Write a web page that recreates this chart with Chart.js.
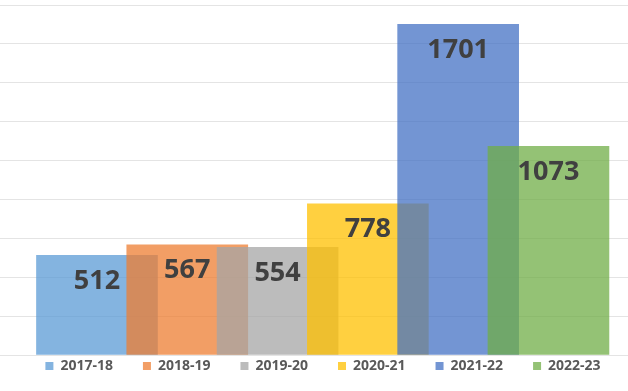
<!DOCTYPE html>
<html>
<head>
<meta charset="utf-8">
<script src="https://cdn.jsdelivr.net/npm/chart.js@4"></script>
<style>
  html, body { margin: 0; padding: 0; background: #fff; }
  #wrap { width: 628px; height: 391px; }
</style>
</head>
<body>
<div id="wrap"><canvas id="myChart"></canvas></div>
<script>
// one bar per season
const seasons = ['2017-18', '2018-19', '2019-20', '2020-21', '2021-22', '2022-23']
const counts = [512, 567, 554, 778, 1701, 1073]
const colors = [
  'rgba(91, 155, 213, 0.75)',
  'rgba(237, 125, 49, 0.75)',
  'rgba(165, 165, 165, 0.75)',
  'rgba(255, 192, 0, 0.75)',
  'rgba(68, 114, 196, 0.75)',
  'rgba(112, 173, 71, 0.75)'
]

// draws the value inside each bar, near its top
const barLabels = {
  id: 'barLabels',
  afterDatasetsDraw(chart) {
    const ctx = chart.ctx
    ctx.save()
    ctx.font = 'bold 27px "Open Sans"'
    ctx.fillStyle = '#404040'
    ctx.textAlign = 'center'
    ctx.textBaseline = 'middle'
    chart.data.datasets.forEach((ds, i) => {
      const bar = chart.getDatasetMeta(i).data[0]
      ctx.fillText(String(ds.data[0].y), bar.x, bar.y + 26)
    })
    ctx.restore()
  }
}

// legend padding is wide for the row spacing, so pull the row up under the plot
const legendNudge = {
  id: 'legendNudge',
  afterLayout(chart) {
    const lg = chart.legend
    const pad = lg.options.labels.padding
    const dy = (chart.chartArea.bottom + 11 - pad - 7) - lg.top
    lg.top += dy
    lg.bottom += dy
    lg.left += 9
    lg.right += 9
  }
}

// later seasons are drawn over the earlier ones
let datasets = seasons.map((s, i) => ({
  label: s,
  data: [{x: i, y: counts[i]}],
  backgroundColor: colors[i],
  borderWidth: 0,
  grouped: false,
  barThickness: 121,
  order: seasons.length - i
}))

let cfg = {
  type: 'bar',
  data: { datasets: datasets },
  options: {
    responsive: true,
    maintainAspectRatio: false,
    animation: false,
    layout: { padding: { top: 5, left: 0, right: 0, bottom: -18 } },
    scales: {
      x: {
        type: 'linear',
        min: -1.074,
        max: 5.881,
        offset: false,
        display: false
      },
      y: {
        min: 0,
        max: 1800,
        ticks: { display: false, stepSize: 200 },
        grid: { color: '#e4e4e4', drawTicks: false },
        border: { display: false }
      }
    },
    plugins: {
      tooltip: { enabled: false },
      legend: {
        position: 'bottom',
        labels: {
          boxWidth: 8,
          boxHeight: 8,
          padding: 30,
          color: '#595959',
          font: { family: '"Open Sans"', size: 14, weight: 'bold' },
          sort: (a, b) => a.datasetIndex - b.datasetIndex
        }
      }
    }
  },
  plugins: [barLabels, legendNudge]
}

const ctx = document.getElementById('myChart')
const myChart = new Chart(ctx, cfg)
</script>
</body>
</html>
